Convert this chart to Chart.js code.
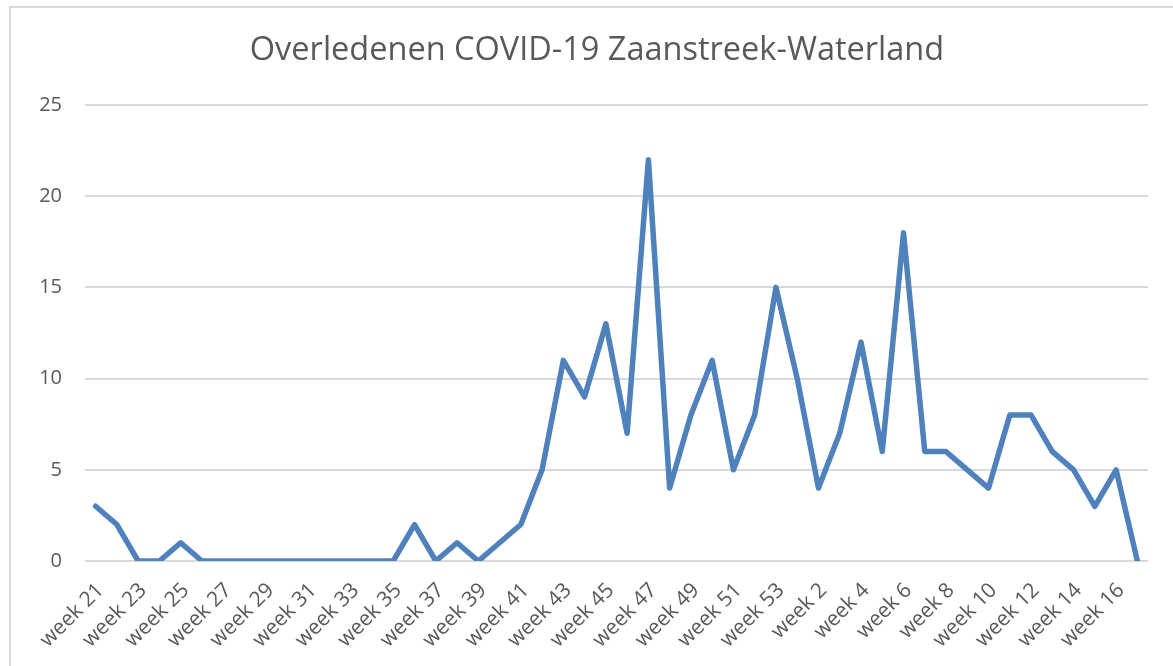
<!DOCTYPE html>
<html>
<head>
<meta charset="utf-8">
<script src="https://cdn.jsdelivr.net/npm/chart.js@4"></script>
<style>
  body { margin: 0; background: #fff; overflow: hidden; }
  #wrap { position: relative; width: 1173px; height: 666px; }
  #frame { position: absolute; left: 9px; top: 6px; width: 1200px; height: 700px; border: 2px solid #d9d9d9; box-sizing: border-box; }
  canvas { position: absolute; left: 0; top: 0; }
</style>
</head>
<body>
<div id="wrap">
  <div id="frame"></div>
  <canvas id="chart" width="1173" height="666"></canvas>
</div>
<script>
// Weken (2020 week 21 t/m 2021 week 17)
const weken2020 = [21, 22, 23, 24, 25, 26, 27, 28, 29, 30, 31, 32, 33, 34, 35, 36, 37, 38, 39, 40,
    41, 42, 43, 44, 45, 46, 47, 48, 49, 50, 51, 52, 53];
const weken2021 = [1, 2, 3, 4, 5, 6, 7, 8, 9, 10, 11, 12, 13, 14, 15, 16, 17];
const labels = weken2020.concat(weken2021).map(w => 'week ' + w);

// Overledenen per week
const overledenen = [3, 2, 0, 0, 1, 0, 0, 0, 0, 0, 0, 0, 0, 0, 0, 2, 0, 1, 0, 1,
    2, 5, 11, 9, 13, 7, 22, 4, 8, 11, 5, 8, 15,
    10, 4, 7, 12, 6, 18, 6, 6, 5, 4, 8, 8, 6, 5, 3, 5, 0];

const yTicks = [0, 5, 10, 15, 20, 25];

const textColor = '#595959';
const fontFamily = '"Open Sans", "Liberation Sans", sans-serif';

// titel centreren over de hele kader (zoals Excel), niet alleen over het plotvlak
const titleCenter = {
    id: 'titleCenter',
    afterLayout(chart) {
        const t = chart.titleBlock;
        if (t) { t.left = 0; t.right = 1194; t.width = 1194; }
    }
};

const chart = new Chart(document.getElementById('chart'), {
    type: 'line',
    data: {
        labels: labels,
        datasets: [{
            label: 'Overledenen',
            data: overledenen,
            borderColor: '#4f81bd',
            borderWidth: 5.5,
            borderJoinStyle: 'round',
            borderCapStyle: 'round',
            pointRadius: 0,
            tension: 0,
            fill: false
        }]
    },
    options: {
        responsive: false,
        animation: false,
        layout: { padding: { left: 0, right: 25, top: 0, bottom: 0 } },
        plugins: {
            legend: { display: false },
            tooltip: { enabled: false },
            title: {
                display: true,
                text: 'Overledenen COVID-19 Zaanstreek-Waterland',
                color: textColor,
                font: { family: fontFamily, size: 32.5, weight: 'normal' },
                padding: { top: 31, bottom: 35 }
            }
        },
        scales: {
            x: {
                offset: true,
                grid: { display: false, drawTicks: false },
                border: { display: false },
                ticks: {
                    autoSkip: false,
                    maxRotation: 45,
                    minRotation: 45,
                    padding: 17,
                    labelOffset: 5,
                    color: textColor,
                    font: { family: fontFamily, size: 21 },
                    callback: function (val, i) { return i % 2 === 0 ? this.getLabelForValue(val) : ''; }
                },
                afterFit: function (scale) { scale.height = 105; }
            },
            y: {
                min: 0,
                max: 25,
                afterBuildTicks: function (scale) { scale.ticks = yTicks.map(v => ({ value: v })); },
                grid: { color: '#d9d9d9', lineWidth: 2, drawTicks: false },
                border: { display: false },
                ticks: {
                    padding: 23,
                    color: textColor,
                    font: { family: fontFamily, size: 20 }
                },
                afterFit: function (scale) { scale.width = 85; }
            }
        }
    },
    plugins: [titleCenter]
});
</script>
</body>
</html>
